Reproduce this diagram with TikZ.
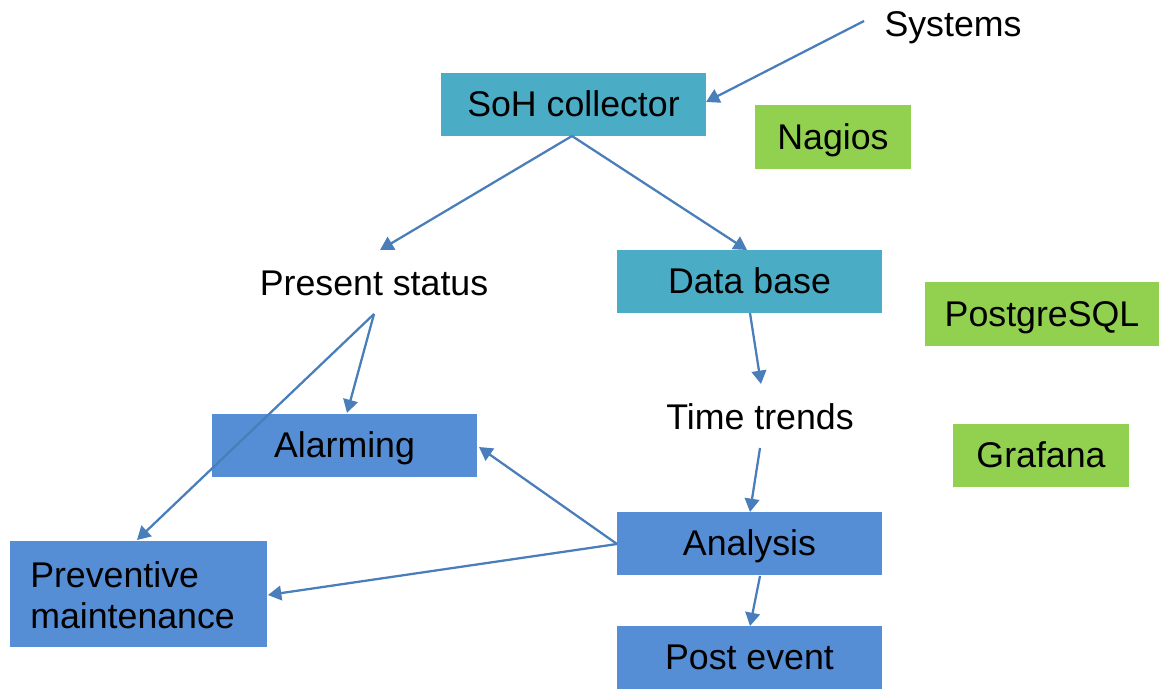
\documentclass[tikz,border=0pt]{standalone}
\usepackage{fontspec}
\setmainfont{Liberation Sans}
\usetikzlibrary{arrows.meta}
\definecolor{teal1}{HTML}{4BACC6}
\definecolor{green1}{HTML}{92D050}
\definecolor{blue1}{HTML}{558ED5}
\definecolor{line1}{HTML}{4A7EBB}
\begin{document}
\begin{tikzpicture}[x=0.75pt,y=-0.75pt,
  every node/.style={font=\fontsize{26.8}{31}\selectfont, inner sep=0pt, text=black, text height=21.5pt, text depth=3pt},
  tealbox/.style={fill=teal1, minimum height=47.25pt},
  greenbox/.style={fill=green1, minimum height=47.5pt},
  bluebox/.style={fill=blue1, minimum height=47.25pt},
  conn/.style={draw=line1, line width=1.7pt, -{Triangle[length=10pt,width=11pt]}}
]
\useasboundingbox (0,0) rectangle (1159,689);
% boxes
\node[tealbox, minimum width=198.75pt] (soh) at (573.5,104.5) {SoH collector};
\node[greenbox, minimum width=117pt] (nagios) at (833,137) {Nagios};
\node[tealbox, minimum width=198.75pt] (db) at (749.5,281.5) {Data base};
\node[greenbox, minimum width=175.5pt] (pg) at (1042,314) {PostgreSQL};
\node[greenbox, minimum width=132pt, minimum height=47.25pt] (graf) at (1041,455.5) {Grafana};
\node[bluebox, minimum width=198.75pt] (alarm) at (344.5,445.5) {Alarming};
\node[bluebox, minimum width=198.75pt] (anal) at (749.5,543.5) {Analysis};
\node[bluebox, minimum width=192.75pt, minimum height=79.5pt, text height=0pt, text depth=0pt] (prev) at (138.5,594) {};
\node[anchor=west, align=left, text height=, text depth=] (prevtext) at (30,595) {Preventive\\maintenance};
\node[bluebox, minimum width=198.75pt] (post) at (749.5,657.5) {Post event};
% plain texts
\node (sys) at (953,24) {Systems};
\node (pres) at (374,283) {Present status};
\node (time) at (760,417) {Time trends};
% connector end points
\coordinate (sysS) at (864,21);
\coordinate (sohE) at (706,102);
\coordinate (sohB) at (572,136);
\coordinate (presT) at (380,250);
\coordinate (dbT) at (747,250);
\coordinate (dbB) at (750,313);
\coordinate (timeT) at (761,384);
\coordinate (presB) at (374,314);
\coordinate (alarmT) at (347,413);
\coordinate (prevT) at (137,540);
\coordinate (timeB) at (760,448);
\coordinate (analT) at (750,512);
\coordinate (analL) at (617,544);
\coordinate (alarmR) at (479,447);
\coordinate (prevR) at (268,595);
\coordinate (analB) at (760,576);
\coordinate (postT) at (750,626);
% connectors
\draw[conn] (sysS) -- (sohE);
\draw[conn] (sohB) -- (presT);
\draw[conn] (sohB) -- (dbT);
\draw[conn] (dbB) -- (timeT);
\draw[conn] (presB) -- (alarmT);
\draw[conn] (presB) -- (prevT);
\draw[conn] (timeB) -- (analT);
\draw[conn] (analL) -- (alarmR);
\draw[conn] (analL) -- (prevR);
\draw[conn] (analB) -- (postT);
\end{tikzpicture}
\end{document}
